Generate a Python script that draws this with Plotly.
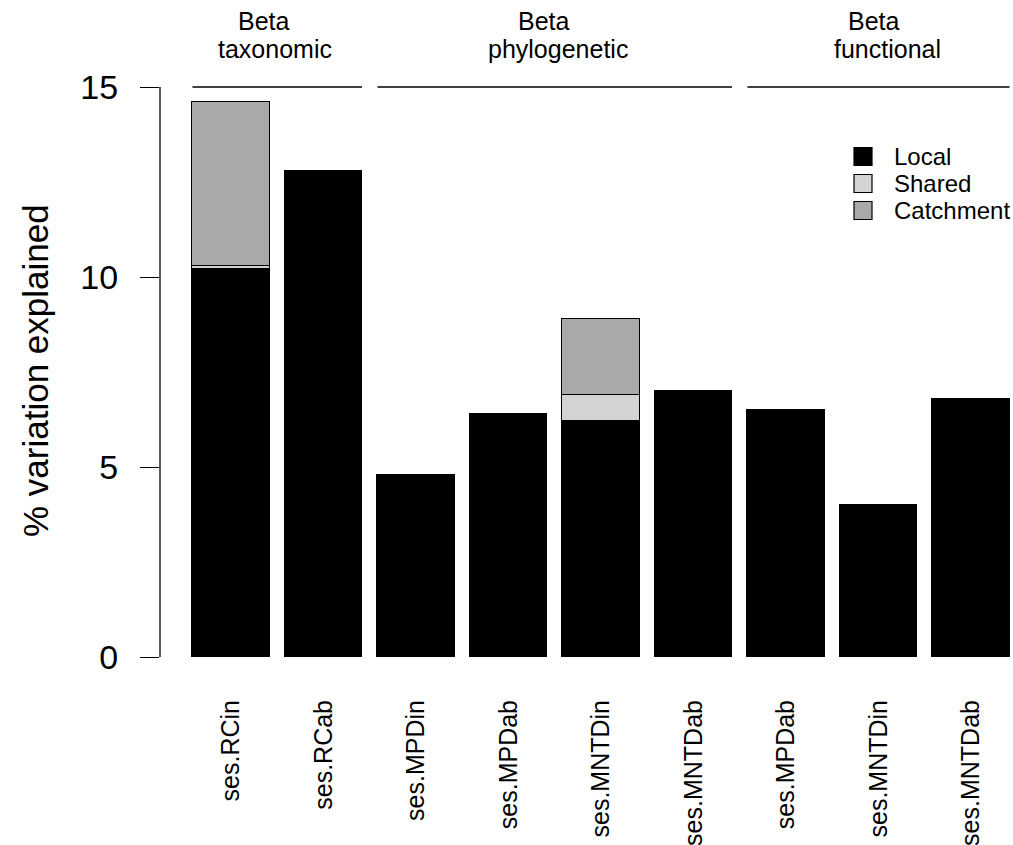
import plotly.graph_objects as go

# Variance partitioning of beta-diversity metrics
metrics = ["ses.RCin", "ses.RCab", "ses.MPDin", "ses.MPDab", "ses.MNTDin",
           "ses.MNTDab", "ses.MPDab", "ses.MNTDin", "ses.MNTDab"]
local = [10.2, 12.8, 4.8, 6.4, 6.2, 7.0, 6.5, 4.0, 6.8]
shared = [0.1, None, None, None, 0.7, None, None, None, None]
catchment = [4.3, None, None, None, 2.0, None, None, None, None]

series_names = ["Local", "Shared", "Catchment"]
series_colors = ["#000000", "#D3D3D3", "#A9A9A9"]

group_titles = ["taxonomic", "phylogenetic", "functional"]
group_sizes = [2, 4, 3]

FONT = "Liberation Sans, Arial, sans-serif"
W, H = 1013, 845
ML, MR, MT, MB = 160, 0, 60, 165
PW, PH = W - ML - MR, H - MT - MB

x = list(range(len(metrics)))
bar_w = 1 / 1.2

fig = go.Figure()
for name, vals, col in zip(series_names, [local, shared, catchment], series_colors):
    fig.add_trace(go.Bar(
        x=x, y=vals, name=name, width=bar_w,
        marker=dict(color=col, line=dict(color="black", width=1.2)),
        showlegend=False,
    ))


def px_x(p):
    return (p - ML) / PW


def px_y(p):
    return 1 - (p - MT) / PH


shapes = []
annotations = []

# y axis line spanning the tick range only
shapes.append(dict(type="line", xref="paper", yref="y", x0=0, x1=0, y0=0, y1=15,
                   line=dict(color="black", width=1.3)))

# group brackets and titles above the bars
start = 0
beta_shift = [-0.14, -0.12, -0.05]
title_shift = [-0.02, 0.03, 0.1]
for i, (title, n) in enumerate(zip(group_titles, group_sizes)):
    lo, hi = start, start + n - 1
    shapes.append(dict(type="line", xref="x", yref="y",
                       x0=lo - bar_w / 2, x1=hi + bar_w / 2, y0=15, y1=15,
                       line=dict(color="black", width=1.3)))
    centre = (lo + hi) / 2
    annotations.append(dict(text="Beta", xref="x", yref="paper",
                            x=centre + beta_shift[i], y=px_y(21), yanchor="middle",
                            showarrow=False, font=dict(size=25, family=FONT, color="black")))
    annotations.append(dict(text=title, xref="x", yref="paper",
                            x=centre + title_shift[i], y=px_y(49), yanchor="middle",
                            showarrow=False, font=dict(size=25, family=FONT, color="black")))
    start += n

# legend
for k, (name, col) in enumerate(zip(series_names, series_colors)):
    cy = 156.5 + 27 * k
    shapes.append(dict(type="rect", xref="paper", yref="paper",
                       x0=px_x(854), x1=px_x(872), y0=px_y(cy - 9), y1=px_y(cy + 9),
                       fillcolor=col, line=dict(color="black", width=1.2)))
    annotations.append(dict(text=name, xref="paper", yref="paper",
                            x=px_x(892), y=px_y(cy), xanchor="left", yanchor="middle",
                            showarrow=False, font=dict(size=24, family=FONT, color="black")))

# y axis title
annotations.append(dict(text="% variation explained", xref="paper", yref="paper",
                        x=px_x(35), y=px_y(371), textangle=-90,
                        xanchor="center", yanchor="middle", showarrow=False,
                        font=dict(size=35, family=FONT, color="black")))

fig.update_layout(
    width=W, height=H,
    margin=dict(l=ML, r=MR, t=MT, b=MB, autoexpand=False),
    paper_bgcolor="white", plot_bgcolor="white",
    barmode="stack", bargap=0,
    font=dict(family=FONT, color="black"),
    shapes=shapes, annotations=annotations,
    xaxis=dict(
        range=[(ML - 231) / 92.5, (W - 231) / 92.5],
        tickmode="array", tickvals=x, ticktext=metrics, tickangle=-90,
        ticks="", showgrid=False, zeroline=False, showline=False,
        tickfont=dict(size=25, family=FONT, color="black"),
        ticklabelstandoff=14, automargin=False,
    ),
    yaxis=dict(
        range=[(657 - (MT + PH)) / 38.0, (657 - MT) / 38.0],
        tickmode="array", tickvals=[0, 5, 10, 15],
        ticks="outside", ticklen=19, tickwidth=1.3, tickcolor="black",
        showgrid=False, zeroline=False, showline=False,
        tickfont=dict(size=34, family=FONT, color="black"),
        ticklabelstandoff=15, automargin=False,
    ),
)

fig.write_html("out.html")
